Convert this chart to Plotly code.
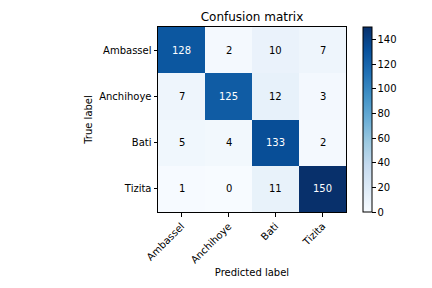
import plotly.graph_objects as go

classes = ["Ambassel", "Anchihoye", "Bati", "Tizita"]
matrix = [
    [128, 2, 10, 7],
    [7, 125, 12, 3],
    [5, 4, 133, 2],
    [1, 0, 11, 150],
]
colorbar_ticks = [0, 20, 40, 60, 80, 100, 120, 140]

blues = ["#f7fbff", "#deebf7", "#c6dbef", "#9ecae1", "#6baed6",
         "#4292c6", "#2171b5", "#08519c", "#08306b"]
colorscale = [[i / (len(blues) - 1), c] for i, c in enumerate(blues)]

vmax = max(max(r) for r in matrix)
thresh = vmax / 2

# page body has an 8px margin, so figure is 424x280 to fill the 432x288 window
W, H = 424, 280

fig = go.Figure()
fig.add_trace(go.Heatmap(
    z=matrix, x=classes, y=classes, colorscale=colorscale,
    zmin=0, zmax=vmax, xgap=0, ygap=0,
    colorbar=dict(
        x=1.09, xanchor="left", y=0.5, yanchor="middle", len=1, lenmode="fraction",
        thickness=9, outlinewidth=1, outlinecolor="black", xpad=0, ypad=0,
        tickvals=colorbar_ticks, ticks="outside", ticklen=3.5, tickwidth=1,
        tickcolor="black", tickfont=dict(size=10, color="black"),
    ),
))

for i, row in enumerate(matrix):
    for j, v in enumerate(row):
        fig.add_annotation(
            x=classes[j], y=classes[i], text=str(v), showarrow=False,
            font=dict(size=10, color="white" if v > thresh else "black"),
        )

fig.update_layout(
    width=W, height=H,
    margin=dict(l=150, r=86, t=19, b=76, autoexpand=False),
    paper_bgcolor="white", plot_bgcolor="white",
    font=dict(family="DejaVu Sans", size=10, color="black"),
    title=dict(text="Confusion matrix", x=244 / W, xanchor="center",
               y=1 - 9 / H, yanchor="middle", font=dict(size=12)),
)
fig.update_xaxes(
    tickangle=-45, ticks="outside", ticklen=3.5, tickcolor="black",
    showline=True, linecolor="black", linewidth=1, mirror=True,
    showgrid=False, zeroline=False, automargin=False,
    title=dict(text="Predicted label", standoff=4, font=dict(size=10)),
)
fig.update_yaxes(
    autorange="reversed", ticks="outside", ticklen=3.5, tickcolor="black",
    showline=True, linecolor="black", linewidth=1, mirror=True,
    showgrid=False, zeroline=False, automargin=False,
    title=dict(text="True label", standoff=4, font=dict(size=10)),
)

fig.write_html("out.html")
